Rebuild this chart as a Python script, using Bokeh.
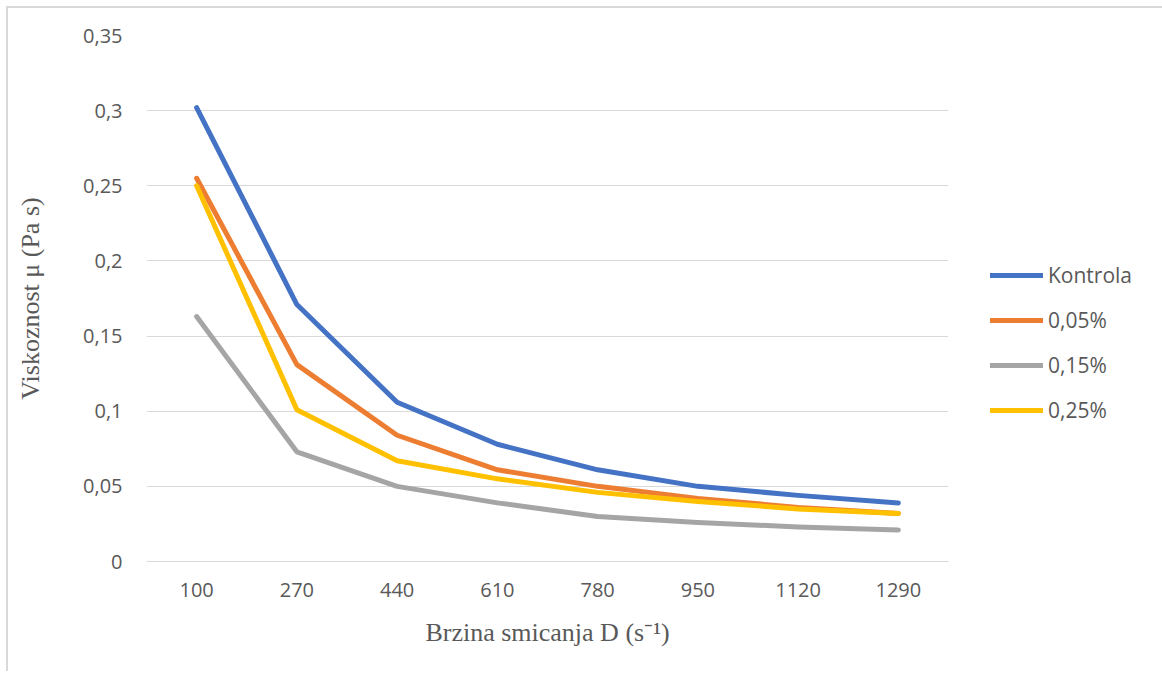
from bokeh.plotting import figure
from bokeh.models import (FactorRange, Range1d, FixedTicker, CustomJSTickFormatter,
                          Legend, LegendItem)
from bokeh.embed import file_html
from bokeh.resources import INLINE

# ---- data ----
shear_rates = ["100", "270", "440", "610", "780", "950", "1120", "1290"]
kontrola = [0.302, 0.171, 0.106, 0.078, 0.061, 0.050, 0.044, 0.039]
c005 = [0.255, 0.131, 0.084, 0.061, 0.050, 0.042, 0.036, 0.032]
c015 = [0.163, 0.073, 0.050, 0.039, 0.030, 0.026, 0.023, 0.021]
c025 = [0.250, 0.101, 0.067, 0.055, 0.046, 0.040, 0.035, 0.032]
series_names = ["Kontrola", "0,05%", "0,15%", "0,25%"]
series_values = [kontrola, c005, c015, c025]
colors = ["#4472C4", "#ED7D31", "#A5A5A5", "#FFC000"]
y_ticks = [0, 0.05, 0.10, 0.15, 0.20, 0.25, 0.30, 0.35]

TICK_FONT = "Open Sans"
TITLE_FONT = "Liberation Serif"
TEXT_COLOR = "#595959"
GRID_COLOR = "#D9D9D9"

p = figure(x_range=FactorRange(*shear_rates), y_range=Range1d(0, 0.35),
           frame_width=802, frame_height=526,
           min_border_left=138, min_border_top=27, min_border_right=210, min_border_bottom=110,
           output_backend="svg", toolbar_location=None)
p.styles = {"margin-left": "6px", "margin-top": "6px",
            "border-left": "2px solid #D9D9D9", "border-right": "2px solid #D9D9D9",
            "border-top": "2px solid #D9D9D9"}
p.outline_line_color = None
p.background_fill_color = "white"
p.border_fill_color = "white"

renderers = []
for name, vals, col in zip(series_names, series_values, colors):
    r = p.line(shear_rates, vals, line_color=col, line_width=5,
               line_cap="round", line_join="round")
    renderers.append(r)

# axes
p.yaxis.ticker = FixedTicker(ticks=y_ticks)
p.yaxis.formatter = CustomJSTickFormatter(code="""
    let s = tick.toFixed(2).replace(/0+$/, '').replace(/\\.$/, '');
    return s.replace('.', ',');
""")
for ax in (p.xaxis[0], p.yaxis[0]):
    ax.major_tick_line_color = None
    ax.minor_tick_line_color = None
    ax.major_label_text_font = TICK_FONT
    ax.major_label_text_font_size = "20px"
    ax.major_label_text_color = TEXT_COLOR
    ax.axis_label_text_font = TITLE_FONT
    ax.axis_label_text_font_size = "26px"
    ax.axis_label_text_font_style = "normal"
    ax.axis_label_text_color = TEXT_COLOR

p.yaxis.axis_line_color = None
p.yaxis.major_label_standoff = 18
p.yaxis.axis_label = "Viskoznost μ (Pa s)"
p.yaxis.axis_label_standoff = 35

p.xaxis.axis_line_color = GRID_COLOR
p.xaxis.major_label_standoff = 15
p.xaxis.axis_label = "Brzina smicanja D (s\u207b\u00b9)"
p.xaxis.axis_label_standoff = 18

p.xgrid.grid_line_color = None
p.ygrid.grid_line_color = GRID_COLOR
p.ygrid.grid_line_width = 1

legend = Legend(items=[LegendItem(label=n, renderers=[r]) for n, r in zip(series_names, renderers)],
                location=(42, 137), orientation="vertical",
                glyph_width=53, glyph_height=20, label_height=20, spacing=17,
                label_standoff=5, padding=0, margin=0,
                border_line_color=None, background_fill_alpha=0,
                label_text_font=TICK_FONT, label_text_font_size="21px",
                label_text_color=TEXT_COLOR)
p.add_layout(legend, "right")

open("out.html", "w").write(file_html(p, INLINE))
